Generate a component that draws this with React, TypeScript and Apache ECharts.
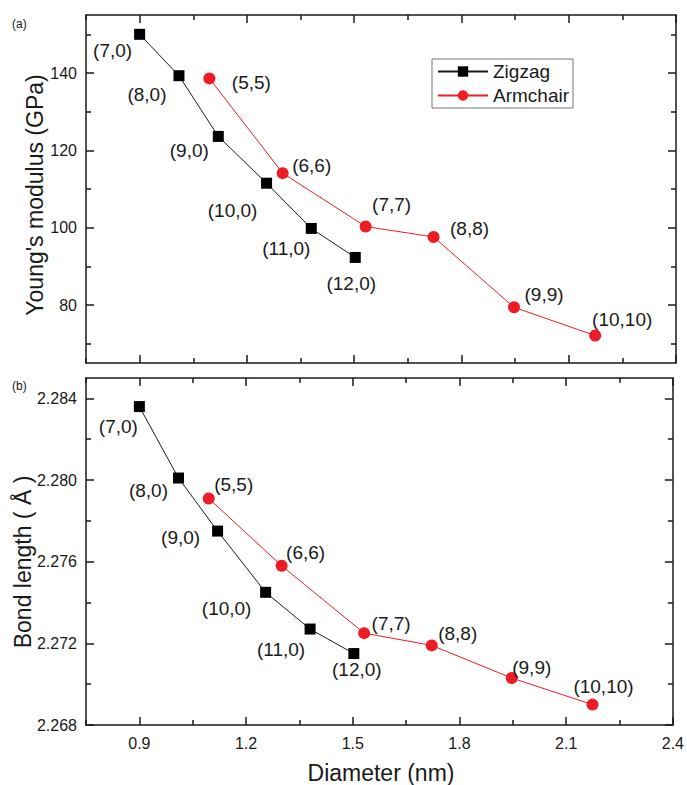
import React, { useEffect, useRef } from "react";
import * as echarts from "echarts";

// ---- data ----
const zigzagLabels = ["(7,0)", "(8,0)", "(9,0)", "(10,0)", "(11,0)", "(12,0)"];
const armchairLabels = ["(5,5)", "(6,6)", "(7,7)", "(8,8)", "(9,9)", "(10,10)"];
const zigzagDiameter = [0.9, 1.01, 1.12, 1.255, 1.38, 1.503];
const armchairDiameter = [1.095, 1.3, 1.532, 1.722, 1.947, 2.174];
const zigzagModulus = [150.0, 139.3, 123.6, 111.5, 99.8, 92.3];
const armchairModulus = [138.6, 114.1, 100.3, 97.6, 79.4, 72.1];
const zigzagBond = [2.2836, 2.2801, 2.2775, 2.2745, 2.2727, 2.2715];
const armchairBond = [2.2791, 2.2758, 2.2725, 2.2719, 2.2703, 2.269];

const xMajorTicks = [0.9, 1.2, 1.5, 1.8, 2.1, 2.4];
const xMinorTicks = [0.75, 1.05, 1.35, 1.65, 1.95, 2.25];
const modulusMajorTicks = [80, 100, 120, 140];
const modulusMinorTicks = [70, 90, 110, 130, 150];
const bondMajorTicks = [2.268, 2.272, 2.276, 2.28, 2.284];
const bondMinorTicks = [2.27, 2.274, 2.278, 2.282];

// ---- layout (label offsets in px, not data) ----
const zigzagTopOffsets = [[-27, 16], [-32, 19], [-29, 14], [-34, 27], [-25, 20], [-4, 26]];
const armchairTopOffsets = [[42, 4], [29, -8], [26, -22], [36, -8], [30, -13], [27, -16]];
const zigzagBottomOffsets = [[-21, 20], [-30, 12], [-37, 6], [-39, 16], [-29, 20], [3, 16]];
const armchairBottomOffsets = [[25, -14], [24, -13], [27, -10], [26, -12], [20, -11], [11, -18]];

const FONT = "'Liberation Sans', Arial, Helvetica, sans-serif";
const INK = "#1a1a1a";
const RED = "#ee1c24";

function buildData(xs: number[], ys: number[], labels: string[], offsets: number[][]) {
  return xs.map((x, i) => ({
    value: [x, ys[i]],
    name: labels[i],
    label: { offset: offsets[i] },
  }));
}

function xAxes(grid: number, showLabels: boolean) {
  const base = {
    type: "value",
    gridIndex: grid,
    min: 0.75,
    max: 2.4,
    splitLine: { show: false },
  };
  const line = { show: true, onZero: false, lineStyle: { color: INK, width: 1.5 } };
  return [
    {
      ...base,
      position: "bottom",
      axisLine: line,
      axisTick: { show: true, inside: true, length: 8, customValues: xMajorTicks, lineStyle: { color: INK, width: 1.5 } },
      axisLabel: {
        show: showLabels,
        customValues: xMajorTicks,
        margin: 10,
        color: INK,
        fontSize: 16,
        fontFamily: FONT,
        formatter: (v: number) => v.toFixed(1),
      },
    },
    {
      ...base,
      position: "bottom",
      axisLine: { show: false, onZero: false },
      axisTick: { show: true, inside: true, length: 5, customValues: xMinorTicks, lineStyle: { color: INK, width: 1.5 } },
      axisLabel: { show: false },
    },
    {
      ...base,
      position: "top",
      axisLine: line,
      axisTick: { show: true, inside: true, length: 8, customValues: xMajorTicks, lineStyle: { color: INK, width: 1.5 } },
      axisLabel: { show: false },
    },
    {
      ...base,
      position: "top",
      axisLine: { show: false, onZero: false },
      axisTick: { show: true, inside: true, length: 5, customValues: xMinorTicks, lineStyle: { color: INK, width: 1.5 } },
      axisLabel: { show: false },
    },
  ];
}

function yAxes(grid: number, min: number, max: number, major: number[], minor: number[], digits: number) {
  const base = { type: "value", gridIndex: grid, min, max, splitLine: { show: false }, scale: true };
  const line = { show: true, onZero: false, lineStyle: { color: INK, width: 1.5 } };
  return [
    {
      ...base,
      position: "left",
      axisLine: line,
      axisTick: { show: true, inside: true, length: 8, customValues: major, lineStyle: { color: INK, width: 1.5 } },
      axisLabel: {
        show: true,
        customValues: major,
        margin: 9,
        color: INK,
        fontSize: 16,
        fontFamily: FONT,
        formatter: (v: number) => v.toFixed(digits),
      },
    },
    {
      ...base,
      position: "left",
      axisLine: { show: false, onZero: false },
      axisTick: { show: true, inside: true, length: 5, customValues: minor, lineStyle: { color: INK, width: 1.5 } },
      axisLabel: { show: false },
    },
    {
      ...base,
      position: "right",
      axisLine: line,
      axisTick: { show: true, inside: true, length: 8, customValues: major, lineStyle: { color: INK, width: 1.5 } },
      axisLabel: { show: false },
    },
    {
      ...base,
      position: "right",
      axisLine: { show: false, onZero: false },
      axisTick: { show: true, inside: true, length: 5, customValues: minor, lineStyle: { color: INK, width: 1.5 } },
      axisLabel: { show: false },
    },
  ];
}

const labelBase = {
  show: true,
  position: "inside",
  align: "center",
  verticalAlign: "middle",
  color: INK,
  fontSize: 19,
  fontFamily: FONT,
  formatter: (p: any) => p.name,
};

export default function App() {
  const ref = useRef<HTMLDivElement>(null);
  useEffect(() => {
    if (!ref.current) return;
    const chart = echarts.init(ref.current, undefined, { renderer: "svg" });
    const option: any = {
      animation: false,
      backgroundColor: "#ffffff",
      grid: [
        { left: 86, top: 15, width: 590, height: 348 },
        { left: 86, top: 378, width: 590, height: 347 },
      ],
      xAxis: [...xAxes(0, false), ...xAxes(1, true)],
      yAxis: [
        ...yAxes(0, 65, 155, modulusMajorTicks, modulusMinorTicks, 0),
        ...yAxes(1, 2.268, 2.285, bondMajorTicks, bondMinorTicks, 3),
      ],
      legend: {
        left: 432,
        top: 59,
        orient: "vertical",
        data: ["Zigzag", "Armchair"],
        itemWidth: 50,
        itemHeight: 13,
        itemGap: 5,
        padding: [3, 4, 3, 5],
        borderColor: "#777",
        borderWidth: 1,
        textStyle: { color: INK, fontSize: 19, fontFamily: FONT, padding: [0, 0, 0, 0] },
      },
      series: [
        {
          name: "Zigzag",
          type: "line",
          xAxisIndex: 0,
          yAxisIndex: 0,
          data: buildData(zigzagDiameter, zigzagModulus, zigzagLabels, zigzagTopOffsets),
          symbol: "rect",
          symbolSize: 11,
          itemStyle: { color: "#000" },
          lineStyle: { color: INK, width: 1 },
          label: labelBase,
        },
        {
          name: "Armchair",
          type: "line",
          xAxisIndex: 0,
          yAxisIndex: 0,
          data: buildData(armchairDiameter, armchairModulus, armchairLabels, armchairTopOffsets),
          symbol: "circle",
          symbolSize: 12,
          itemStyle: { color: RED },
          lineStyle: { color: RED, width: 1 },
          label: labelBase,
        },
        {
          name: "Zigzag",
          type: "line",
          xAxisIndex: 4,
          yAxisIndex: 4,
          data: buildData(zigzagDiameter, zigzagBond, zigzagLabels, zigzagBottomOffsets),
          symbol: "rect",
          symbolSize: 11,
          itemStyle: { color: "#000" },
          lineStyle: { color: INK, width: 1 },
          label: labelBase,
        },
        {
          name: "Armchair",
          type: "line",
          xAxisIndex: 4,
          yAxisIndex: 4,
          data: buildData(armchairDiameter, armchairBond, armchairLabels, armchairBottomOffsets),
          symbol: "circle",
          symbolSize: 12,
          itemStyle: { color: RED },
          lineStyle: { color: RED, width: 1 },
          label: labelBase,
        },
      ],
      graphic: [
        { type: "text", left: 12, top: 18, style: { text: "(a)", fontSize: 12, fontFamily: FONT, fill: INK } },
        { type: "text", left: 12, top: 380, style: { text: "(b)", fontSize: 12, fontFamily: FONT, fill: INK } },
        {
          type: "text",
          x: 35,
          y: 195,
          rotation: Math.PI / 2,
          style: {
            text: "Young's modulus (GPa)",
            fontSize: 23,
            fontFamily: FONT,
            fill: INK,
            align: "center",
            verticalAlign: "middle",
          },
        },
        {
          type: "text",
          x: 23,
          y: 562,
          rotation: Math.PI / 2,
          style: {
            text: "Bond length ( Å )",
            fontSize: 23,
            fontFamily: FONT,
            fill: INK,
            align: "center",
            verticalAlign: "middle",
          },
        },
        {
          type: "text",
          x: 381,
          y: 773,
          style: {
            text: "Diameter (nm)",
            fontSize: 23,
            fontFamily: FONT,
            fill: INK,
            align: "center",
            verticalAlign: "middle",
          },
        },
      ],
    };
    chart.setOption(option);
    return () => chart.dispose();
  }, []);
  return (
    <div
      ref={ref}
      style={{ position: "absolute", left: 0, top: 0, width: 687, height: 785, background: "#fff" }}
    />
  );
}
